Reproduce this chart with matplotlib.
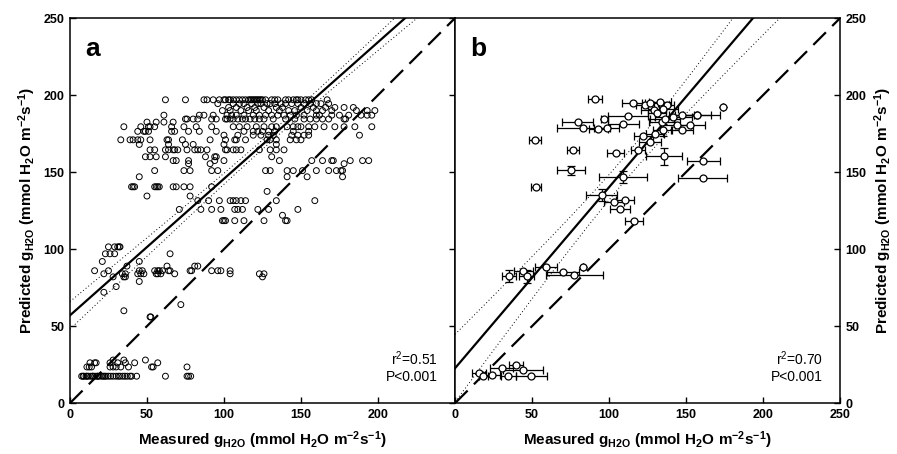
import numpy as np
import matplotlib
matplotlib.use("Agg")
import matplotlib.pyplot as plt

plt.rcParams["font.family"] = ["Liberation Sans Narrow", "Liberation Sans", "DejaVu Sans"]
plt.rcParams["mathtext.default"] = "regular"

# ---------------------------------------------------------------------------
# Panel a: individual observations (measured, predicted), grouped by row
# ---------------------------------------------------------------------------
rows_a = [
    (197, [62, 75, 87, 89, 93, 97, 100, 101, 103, 104, 106, 108, 110, 112, 114, 116, 117,
           118, 119, 120, 121, 122, 123, 124, 125, 127, 131, 133, 135, 140, 142, 145, 147,
           148, 150, 153, 155, 157, 167]),
    (194.5, [96, 106, 110, 113, 118, 122, 124, 128, 130, 133, 137, 140, 144, 148, 152, 156, 160, 163, 168]),
    (192, [103, 108, 115, 120, 126, 134, 138, 150, 158, 166, 172, 178, 184]),
    (190, [99, 104, 111, 116, 121, 129, 136, 142, 146, 154, 160, 164, 170, 186, 193, 198]),
    (187, [61, 84, 87, 93, 102, 105, 108, 113, 119, 123, 127, 131, 135, 139, 143, 147, 152,
           160, 162, 170, 175, 181, 189, 193, 196]),
    (184.5, [75, 76, 80, 83, 92, 95, 101, 102, 104, 106, 109, 112, 114, 117, 120, 123, 126,
             132, 140, 146, 152, 156, 160, 164, 168, 178, 179]),
    (182.5, [50, 56, 61, 67]),
    (179.5, [35, 46, 51, 52, 55, 66, 74, 82, 92, 106, 110, 115, 121, 126, 131, 134, 141, 145,
             148, 150, 155, 159, 165, 172, 178, 185, 196]),
    (176.5, [44, 48, 49, 51, 66, 68, 77, 84, 95, 113, 119, 122, 125, 129, 133, 145, 155]),
    (174, [100, 109, 119, 124, 129, 132, 144, 148, 152, 155, 188]),
    (171, [33, 39, 41, 44, 46, 52, 63, 64, 73, 91, 101, 107, 108, 114, 128, 130, 134, 143, 147, 150]),
    (168, [45, 64, 75, 80, 100, 134]),
    (164.5, [52, 55, 62, 64, 67, 68, 70, 76, 81, 83, 85, 89, 101, 102, 106, 108, 111, 123, 130, 134, 139]),
    (160, [49, 52, 56, 62, 88, 94, 95, 131]),
    (157.5, [67, 69, 77, 94, 100, 136, 157, 164, 170, 171, 182, 190, 194]),
    (155.5, [77, 91, 178]),
    (151, [55, 74, 78, 92, 96, 127, 130, 141, 145, 151, 160, 168, 173, 176, 177]),
    (147, [45, 141, 154, 177]),
    (140.5, [40, 41, 42, 55, 56, 57, 58, 67, 69, 74, 78, 92]),
    (137.5, [128]),
    (134.5, [50, 78]),
    (131.5, [83, 90, 97, 104, 106, 108, 111, 114, 134, 159]),
    (125.8, [71, 85, 92, 98, 107, 109, 112, 122, 129, 148]),
    (122, [138]),
    (118.5, [99, 100, 101, 107, 113, 126, 140, 141]),
    (101.5, [25, 29, 31, 32, 32.5]),
    (97, [23, 26, 29, 65]),
    (92, [21, 45]),
    (89, [37, 63, 81, 83]),
    (86, [16, 25, 45, 47, 55, 57, 58, 60, 64, 65, 78, 79, 92, 96, 98, 104]),
    (84, [22, 34, 36, 44, 46, 48, 56, 57, 59, 68, 104, 123, 126]),
    (82, [28, 35, 36, 125]),
    (79, [45]),
    (75.7, [30]),
    (72, [22]),
    (64, [72]),
    (60, [35]),
    (56, [52, 52.5]),
    (28, [28, 35, 49]),
    (26.2, [13, 16, 17, 26, 31, 36, 42, 57]),
    (23.5, [11, 12.5, 14, 26, 28, 30, 33, 38, 53, 54, 76]),
    (17.5, [7.6, 8.5, 9, 10.4, 11, 11.9, 13.4, 14.7, 15, 16.2, 17.7, 18, 19, 20.6, 21.6,
            22.5, 23.4, 24.9, 26.4, 28.1, 29.9, 31.4, 32.5, 34.2, 35.7, 37.2, 39, 40,
            43.3, 62, 76, 77, 78.4]),
]
meas_a = np.array([x for y, xs in rows_a for x in xs], dtype=float)
pred_a = np.array([y for y, xs in rows_a for x in xs], dtype=float)

# ---------------------------------------------------------------------------
# Panel b: site means with standard errors on measured (and some on predicted)
# ---------------------------------------------------------------------------
meas_b = np.array([91, 115.8, 123.4, 126.6, 133, 137.4, 129, 131, 135,
                   112.5, 97, 79.6, 83.3, 93, 98.5, 109.3,
                   122.3, 129.9, 134.2, 136.4, 141.8, 147.2, 143.9, 152.6, 147.2, 157.3, 134.8,
                   173.8, 157.4, 126.6, 119, 51.9, 76.4, 104.3, 135.7, 161.3,
                   75.3, 109.3, 160.8, 52.6, 95.2, 103.5, 110.4, 107.1, 116.2,
                   35.3, 44.4, 46.5, 59.1, 70.3, 77.5, 83.3,
                   39.6, 43.9, 30.3, 23.8, 34.6, 49.4, 15.8, 18.4])
pred_b = np.array([197.2, 194.6, 193.5, 194.8, 195.5, 193.8, 190.5, 188.5, 191,
                   186.4, 184.6, 182.7, 178.4, 178, 178.5, 181.2,
                   173.4, 175.1, 182.7, 184.8, 186, 187, 180.5, 180.5, 177.3, 187, 177.3,
                   192.2, 187.2, 169.7, 164.4, 171, 164.5, 162.3, 160.2, 157.4,
                   151.1, 146.8, 145.9, 140.3, 135.3, 130.5, 132, 126, 118.6,
                   82.7, 86.1, 82.3, 88.3, 85.1, 83.5, 88.7,
                   24.9, 21.6, 22.7, 18, 17.7, 17.7, 19.5, 17.7])
xerr_b = np.array([4.5, 7.6, 6, 5, 7, 5, 8, 6, 10,
                   13, 2.5, 10.3, 17, 6, 8, 10,
                   6, 6, 8, 10, 12, 8, 9, 10, 7, 9, 6,
                   0, 14.5, 7, 4.5, 4, 4, 5.5, 11.5, 10.5,
                   9, 15.5, 16, 3.5, 10, 6.5, 6, 6.5, 6,
                   4.5, 6, 5, 7, 10.5, 18.5, 0,
                   4.5, 13, 7.5, 5.5, 5, 10, 4.5, 3])
yerr_b = np.array([0, 0, 0, 0, 0, 0, 0, 0, 0,
                   0, 0, 0, 0, 0, 0, 0,
                   0, 0, 0, 0, 0, 0, 0, 0, 0, 0, 4,
                   0, 0, 0, 0, 0, 0, 0, 5.5, 0,
                   3, 4, 0, 0, 4, 0, 0, 0, 0,
                   4, 0, 4, 0, 0, 0, 0,
                   0, 0, 0, 0, 0, 0, 0, 0])

# regression fits: intercept, slope, band half-width at centre, spread, centre
fit_a = dict(b0=57.0, b1=0.887, h0=3.0, k=0.065, xc=130.0, stats="r$^2$=0.51\nP<0.001")
fit_b = dict(b0=22.7, b1=1.175, h0=8.0, k=0.186, xc=110.0, stats="r$^2$=0.70\nP<0.001")

ticks = [0, 50, 100, 150, 200, 250]
xlabel = "Measured g$_{H2O}$ (mmol H$_2$O m$^{-2}$s$^{-1}$)"
ylabel = "Predicted g$_{H2O}$ (mmol H$_2$O m$^{-2}$s$^{-1}$)"


def draw_lines(ax, fit):
    xs = np.linspace(0, 250, 400)
    yhat = fit["b0"] + fit["b1"] * xs
    half = np.sqrt(fit["h0"] ** 2 + (fit["k"] * (xs - fit["xc"])) ** 2)
    ax.plot(xs, yhat, color="k", lw=1.6, zorder=3)
    ax.plot(xs, yhat + half, color="k", lw=0.7, ls=(0, (1, 2.5)), zorder=3)
    ax.plot(xs, yhat - half, color="k", lw=0.7, ls=(0, (1, 2.5)), zorder=3)
    one, = ax.plot([0, 250], [0, 250], color="k", lw=1.6, zorder=3)
    one.set_dashes((8, 4))
    ax.text(0.955, 0.095, fit["stats"], transform=ax.transAxes, ha="right", va="center",
            fontsize=10, linespacing=1.15)


def style(ax):
    ax.set_xlim(0, 250)
    ax.set_ylim(0, 250)
    ax.set_xticks(ticks)
    ax.set_yticks(ticks)
    for s in ax.spines.values():
        s.set_linewidth(1.1)
    ax.tick_params(direction="in", length=4, width=1, labelsize=9, pad=4)


def bold_ticks(ax):
    for lab in ax.get_xticklabels() + ax.get_yticklabels():
        lab.set_fontweight("bold")


fig = plt.figure(figsize=(8.97, 4.54), dpi=100)
ax_a = fig.add_axes([0.078, 0.112, 0.4292, 0.848])
ax_b = fig.add_axes([0.5073, 0.112, 0.4292, 0.848])

# panel a
style(ax_a)
ax_a.scatter(meas_a, pred_a, s=18, facecolors="none", edgecolors="k", linewidths=0.7, zorder=2)
draw_lines(ax_a, fit_a)
ax_a.set_xticks([0, 50, 100, 150, 200])
ax_a.tick_params(axis="y", left=True, right=True)
bold_ticks(ax_a)
ax_a.set_xlabel(xlabel, fontsize=11, fontweight="bold", labelpad=6)
ax_a.set_ylabel(ylabel, fontsize=11, fontweight="bold", labelpad=4)
ax_a.text(0.04, 0.95, "a", transform=ax_a.transAxes, fontsize=19, fontweight="bold",
          va="top", ha="left")

# panel b
style(ax_b)
ax_b.errorbar(meas_b, pred_b, xerr=xerr_b, yerr=yerr_b, fmt="o", ms=5, mfc="white", mec="k",
              mew=0.9, ecolor="k", elinewidth=0.9, capsize=3, capthick=0.9, zorder=4)
draw_lines(ax_b, fit_b)
ax_b.tick_params(axis="y", left=False, right=True, labelleft=False, labelright=True)
bold_ticks(ax_b)
ax_b.yaxis.set_label_position("right")
ax_b.set_xlabel(xlabel, fontsize=11, fontweight="bold", labelpad=6)
ax_b.set_ylabel(ylabel, fontsize=11, fontweight="bold", labelpad=4)
ax_b.text(0.04, 0.95, "b", transform=ax_b.transAxes, fontsize=19, fontweight="bold",
          va="top", ha="left")

fig.savefig("out.png", dpi=100)
